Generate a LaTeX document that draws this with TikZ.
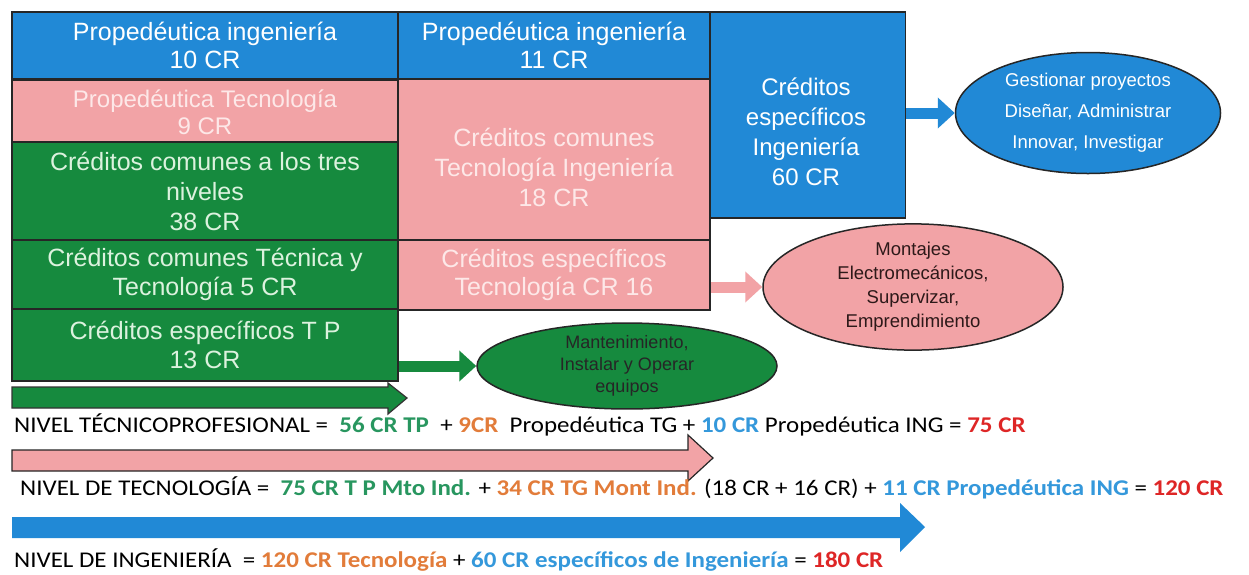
\documentclass[tikz,border=0pt]{standalone}
\usepackage{fontspec}
\setmainfont{Liberation Sans}
\newfontfamily\carl{Carlito}
\usetikzlibrary{arrows.meta,shapes.geometric}
\definecolor{cblue}{RGB}{33,137,214}
\definecolor{cpink}{RGB}{242,163,166}
\definecolor{cgreen}{RGB}{22,138,62}
\definecolor{tpink}{RGB}{253,232,232}
\definecolor{tgreen}{RGB}{220,242,222}
\definecolor{edark}{RGB}{45,25,25}
\definecolor{lgreen}{RGB}{40,150,95}
\definecolor{lorange}{RGB}{226,124,58}
\definecolor{lblue}{RGB}{52,152,219}
\definecolor{lred}{RGB}{222,38,38}
\newcommand{\lvlstretch}[1]{\scalebox{1.11}[1]{#1}}
\begin{document}
\begin{tikzpicture}[x=1pt,y=-1pt,
  box/.style={draw=black!85, line width=1.5pt, rectangle, inner sep=0pt, align=center,
    font=\fontsize{25}{28.5}\selectfont},
  lbl/.style={inner sep=0pt, align=center, font=\fontsize{24}{30}\selectfont},
  oval/.style={ellipse, draw=black!85, line width=1.5pt, inner sep=0pt, align=center},
  smallarrow/.style={line width=11pt, -{Triangle[length=17pt,width=30pt]}},
  bigarrow/.style={line width=1.2pt, line join=miter},
  lvl/.style={inner sep=0pt, anchor=base west, font=\carl\fontsize{22.5}{24}\selectfont}
]
\useasboundingbox (0,0) rectangle (1249,574);
\fill[white] (0,0) rectangle (1249,574);

% left column
\node[box, fill=cblue, text=white, minimum width=386pt, minimum height=67pt] (b1) at (205,45.5) {Propedéutica ingeniería\\10 CR};
\node[box, fill=cpink, text=tpink, minimum width=386pt, minimum height=63pt, font=\fontsize{24}{27}\selectfont] (b2) at (205,112) {Propedéutica Tecnología\\9 CR};
\node[box, fill=cgreen, text=tgreen, minimum width=386pt, minimum height=98pt, font=\fontsize{25}{30}\selectfont] (b3) at (205,191) {Créditos comunes a los tres\\niveles\\38 CR};
\node[box, fill=cgreen, text=tgreen, minimum width=386pt, minimum height=69pt] (b4) at (205,274.5) {Créditos comunes Técnica y\\Tecnología 5 CR};
\node[box, fill=cgreen, text=tgreen, minimum width=386pt, minimum height=72pt] (b5) at (205,345) {Créditos específicos T P\\13 CR};

% middle column
\node[box, fill=cblue, text=white, minimum width=312pt, minimum height=67pt] (m1) at (554,45.5) {Propedéutica ingeniería\\11 CR};
\node[box, fill=cpink, minimum width=312pt, minimum height=161pt] (m2) at (554,159.5) {};
\node[lbl, text=tpink, font=\fontsize{25}{30}\selectfont] (m2t) at (554,167) {Créditos comunes\\Tecnología Ingeniería\\18 CR};
\node[box, fill=cpink, text=tpink, minimum width=312pt, minimum height=70pt] (m3) at (554,275) {Créditos específicos\\Tecnología CR 16};

% right box
\node[box, fill=cblue, minimum width=195pt, minimum height=206pt] (r1) at (808,115) {};
\node[lbl, text=white] (r1t) at (806,132) {Créditos\\específicos\\Ingeniería\\60 CR};

% outcome ellipses
\node[oval, fill=cblue, text=white, minimum width=265pt, minimum height=121pt,
  font=\fontsize{18.5}{31}\selectfont] (eb) at (1088,113) {Gestionar proyectos\\Diseñar, Administrar\\Innovar, Investigar};
\node[oval, fill=cpink, text=edark, minimum width=300pt, minimum height=115pt,
  font=\fontsize{18.5}{24}\selectfont] (ep) at (913,287) {Montajes\\Electromecánicos,\\Supervizar,\\Emprendimiento};
\node[oval, fill=cgreen, text=black!85, minimum width=300pt, minimum height=83pt,
  font=\fontsize{18}{22}\selectfont] (eg) at (627,366) {Mantenimiento,\\Instalar y Operar\\equipos};

% small arrows
\draw[smallarrow, draw=cblue] (r1.east |- eb.west) -- (eb.west);
\draw[smallarrow, draw=cpink] (m3.east |- ep.west) -- (ep.west);
\draw[smallarrow, draw=cgreen] (b5.east |- eg.west) -- (eg.west);

% big level arrows
\draw[bigarrow, draw=black!80, fill=cgreen] (12,387) -- (388,387) -- (388,383) -- (407,398) -- (388,414) -- (388,408) -- (12,408) -- cycle;
\draw[bigarrow, draw=black!85, fill=cpink] (12,450) -- (688,450) -- (688,435) -- (713,458) -- (688,481) -- (688,471) -- (12,471) -- cycle;
\fill[cblue] (12,517) -- (900,517) -- (900,503) -- (925,527) -- (900,552) -- (900,538) -- (12,538) -- cycle;

% level texts
\node[lvl] (t1) at (14,432) {\lvlstretch{NIVEL TÉCNICOPROFESIONAL =\ \ \textcolor{lgreen}{\textbf{56 CR TP}}\ \ + \textcolor{lorange}{\textbf{9CR}}\ \ Propedéutica TG + \textcolor{lblue}{\textbf{10 CR}} Propedéutica ING = \textcolor{lred}{\textbf{75 CR}}}};
\node[lvl] (t2) at (20,495) {\lvlstretch{NIVEL DE TECNOLOGÍA =\ \ \textcolor{lgreen}{\textbf{75 CR T P Mto Ind.}} + \textcolor{lorange}{\textbf{34 CR TG Mont Ind.}} (18 CR + 16 CR) + \textcolor{lblue}{\textbf{11 CR Propedéutica ING}} = \textcolor{lred}{\textbf{120 CR}}}};
\node[lvl] (t3) at (14,567) {\lvlstretch{NIVEL DE INGENIERÍA\ \ = \textcolor{lorange}{\textbf{120 CR Tecnología}} + \textcolor{lblue}{\textbf{60 CR específicos de Ingeniería}} = \textcolor{lred}{\textbf{180 CR}}}};
\end{tikzpicture}
\end{document}
